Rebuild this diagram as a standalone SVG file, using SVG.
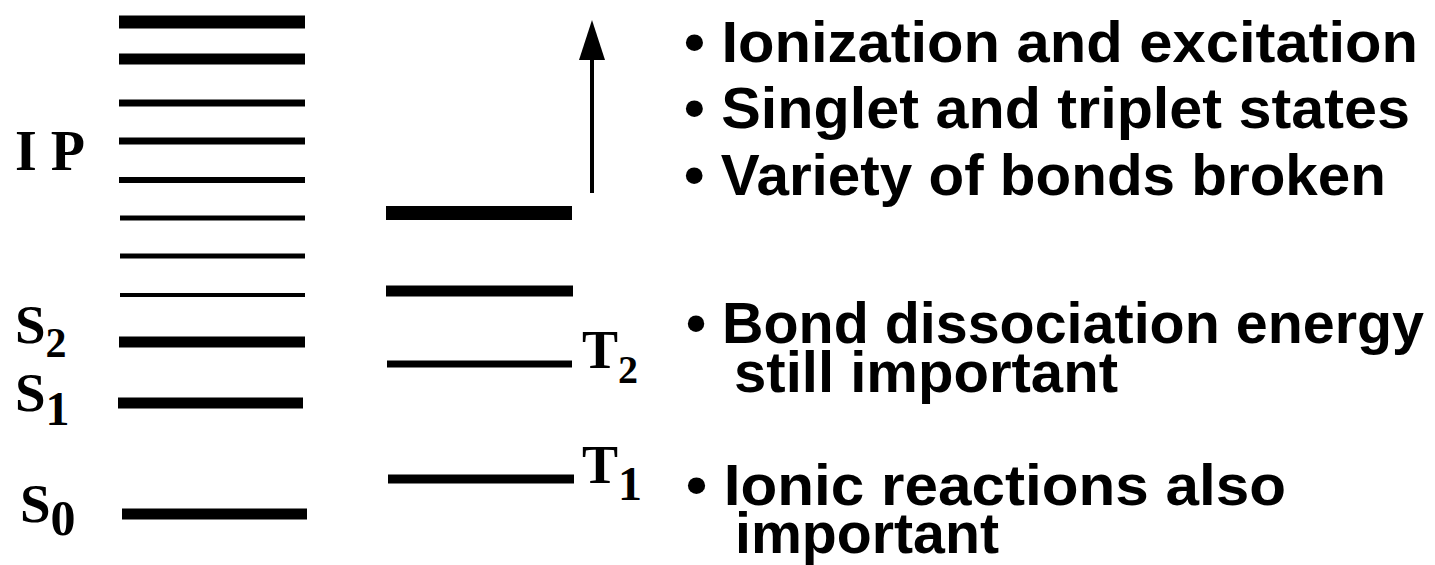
<svg xmlns="http://www.w3.org/2000/svg" width="1435" height="565" viewBox="0 0 1435 565">
<style>
.lv{stroke:#000;stroke-linecap:butt}
.lbl{font-family:"Liberation Serif","Times New Roman",serif;font-weight:bold;fill:#000}
.txt{font-family:"Liberation Sans",Arial,Helvetica,sans-serif;font-weight:bold;font-size:58px;fill:#000}
</style>
<defs>
<marker id="ah" markerUnits="userSpaceOnUse" viewBox="0 0 40 26" refX="4" refY="13" markerWidth="40" markerHeight="26" orient="auto">
<path d="M0,0 L40,13 L0,26 Z" fill="#000"/>
</marker>
</defs>
<rect width="1435" height="565" fill="#fff"/>
<g id="singlet-levels">
<line class="lv" x1="119" y1="22" x2="305" y2="22" stroke-width="13"/>
<line class="lv" x1="119" y1="59" x2="305" y2="59" stroke-width="11"/>
<line class="lv" x1="119" y1="103" x2="305" y2="103" stroke-width="7"/>
<line class="lv" x1="119" y1="141" x2="305" y2="141" stroke-width="7"/>
<line class="lv" x1="119" y1="180" x2="305" y2="180" stroke-width="6"/>
<line class="lv" x1="120" y1="218" x2="305" y2="218" stroke-width="5"/>
<line class="lv" x1="120" y1="256" x2="305" y2="256" stroke-width="5"/>
<line class="lv" x1="120" y1="295" x2="305" y2="295" stroke-width="4"/>
<line class="lv" x1="119" y1="342" x2="305" y2="342" stroke-width="11"/>
<line class="lv" x1="118" y1="403" x2="303" y2="403" stroke-width="11"/>
<line class="lv" x1="122" y1="514" x2="307" y2="514" stroke-width="11"/>
</g>
<g id="triplet-levels">
<line class="lv" x1="386" y1="213" x2="572" y2="213" stroke-width="14"/>
<line class="lv" x1="386" y1="291" x2="573" y2="291" stroke-width="11"/>
<line class="lv" x1="387" y1="364" x2="572" y2="364" stroke-width="7"/>
<line class="lv" x1="388" y1="479" x2="574" y2="479" stroke-width="9"/>
</g>
<g id="labels">
<text id="IP" class="lbl" x="15" y="170" font-size="56">I P</text>
<text id="S2" class="lbl" x="15" y="343" font-size="55">S<tspan dy="14" font-size="42">2</tspan></text>
<text id="S1" class="lbl" x="15" y="411" font-size="55">S<tspan dy="14" font-size="48">1</tspan></text>
<text id="S0" class="lbl" x="20" y="522" font-size="55">S<tspan dy="13" font-size="50">0</tspan></text>
<text id="T2" class="lbl" x="582" y="368" font-size="54">T<tspan dy="15" font-size="40">2</tspan></text>
<text id="T1" class="lbl" x="582" y="483" font-size="54">T<tspan dy="17" font-size="48">1</tspan></text>
</g>
<g id="connectors">
<line x1="592" y1="193" x2="592" y2="56" stroke="#000" stroke-width="4" marker-end="url(#ah)"/>
</g>
<g id="notes">
<text class="txt" x="684" y="62" textLength="734" lengthAdjust="spacingAndGlyphs">• Ionization and excitation</text>
<text class="txt" x="684" y="128" textLength="726" lengthAdjust="spacingAndGlyphs">• Singlet and triplet states</text>
<text class="txt" x="684" y="195" textLength="702" lengthAdjust="spacingAndGlyphs">• Variety of bonds broken</text>
<text class="txt"><tspan x="686" y="343" textLength="738" lengthAdjust="spacingAndGlyphs">• Bond dissociation energy</tspan><tspan x="734" y="392" textLength="384" lengthAdjust="spacingAndGlyphs">still important</tspan></text>
<text class="txt"><tspan x="686" y="505" textLength="600" lengthAdjust="spacingAndGlyphs">• Ionic reactions also</tspan><tspan x="735" y="553" textLength="264" lengthAdjust="spacingAndGlyphs">important</tspan></text>
</g>
</svg>
